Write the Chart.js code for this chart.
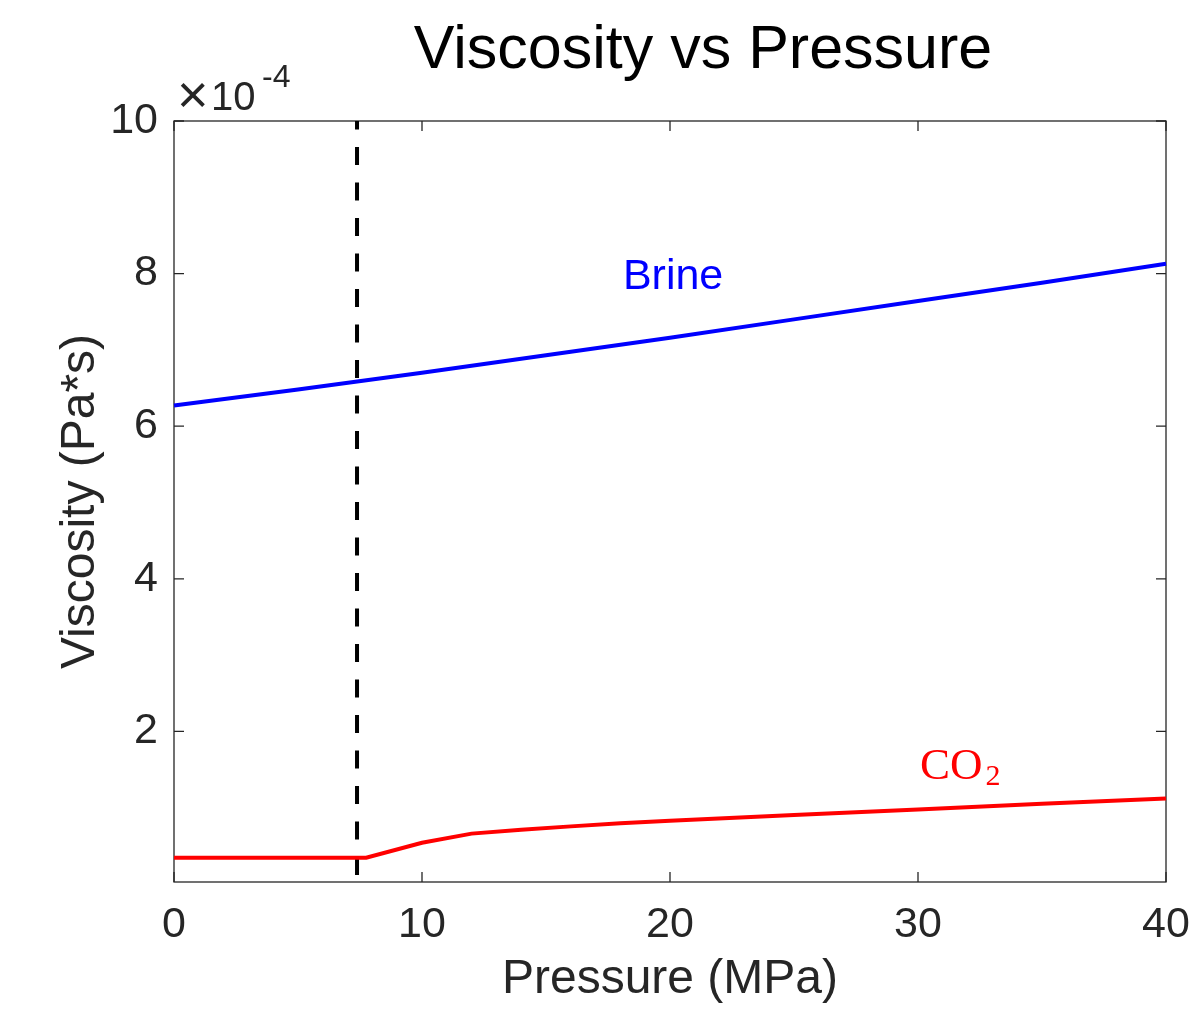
<!DOCTYPE html>
<html>
<head>
<meta charset="utf-8">
<title>Viscosity vs Pressure</title>
<script src="https://cdn.jsdelivr.net/npm/chart.js@4"></script>
<style>
    html, body { margin: 0; padding: 0; background: #fff; }
    canvas { display: block; }
</style>
</head>
<body>
<canvas id="viscChart" width="1204" height="1023"></canvas>
<script>
// Pressure (MPa) and viscosity (x 1e-4 Pa*s) for each fluid
const brinePressure = [0, 5, 10, 15, 20, 25, 30, 35, 40];
const brineViscosity = [6.27, 6.48, 6.70, 6.93, 7.16, 7.40, 7.64, 7.88, 8.13];

const co2Pressure = [0, 2, 4, 6, 7.75, 10, 12, 14, 16, 18, 20, 25, 30, 35, 40];
const co2Viscosity = [0.345, 0.345, 0.345, 0.345, 0.345, 0.54, 0.66, 0.71, 0.755, 0.795, 0.83, 0.905, 0.975, 1.05, 1.12];

// CO2 critical pressure marker
const criticalPressure = 7.38;

const xTicks = [0, 10, 20, 30, 40];
const yTicks = [2, 4, 6, 8, 10];
const yMin = 0.026;
const yMax = 10;

const axisColor = '#262626';
const sans = '"Liberation Sans", Arial, Helvetica, sans-serif';
const serif = '"Liberation Serif", "Times New Roman", serif';

const toPoints = (xs, ys) => xs.map((x, i) => ({ x: x, y: ys[i] }));

// Box around the plot with inward ticks on all four sides
const boxAxes = {
    id: 'boxAxes',
    beforeDatasetsDraw(chart) {
        const { ctx, chartArea: a, scales } = chart;
        const tick = 10;
        ctx.save();
        ctx.strokeStyle = axisColor;
        ctx.lineWidth = 1.3;
        ctx.strokeRect(a.left, a.top, a.right - a.left, a.bottom - a.top);
        ctx.beginPath();
        xTicks.forEach(v => {
            const px = scales.x.getPixelForValue(v);
            ctx.moveTo(px, a.bottom); ctx.lineTo(px, a.bottom - tick);
            ctx.moveTo(px, a.top); ctx.lineTo(px, a.top + tick);
        });
        yTicks.forEach(v => {
            const py = scales.y.getPixelForValue(v);
            ctx.moveTo(a.left, py); ctx.lineTo(a.left + tick, py);
            ctx.moveTo(a.right, py); ctx.lineTo(a.right - tick, py);
        });
        ctx.stroke();
        ctx.restore();
    },
    afterDraw(chart) {
        const { ctx, chartArea: a, scales } = chart;
        ctx.save();

        // title
        ctx.fillStyle = '#000';
        ctx.font = `61px ${sans}`;
        ctx.textAlign = 'center';
        ctx.textBaseline = 'alphabetic';
        ctx.fillText('Viscosity vs Pressure', 703, 68);

        // axis multiplier
        ctx.fillStyle = axisColor;
        ctx.textAlign = 'left';
        ctx.font = `54px ${sans}`;
        ctx.fillText('\u00d7', a.left + 3, 113);
        ctx.font = `40px ${sans}`;
        ctx.fillText('10', a.left + 37, 110);
        ctx.font = `32px ${sans}`;
        ctx.fillText('-4', a.left + 88, 87);

        // curve labels
        ctx.fillStyle = '#0000ff';
        ctx.font = `43px ${sans}`;
        ctx.fillText('Brine', scales.x.getPixelForValue(18.1), scales.y.getPixelForValue(7.8));

        ctx.fillStyle = '#ff0000';
        const cx = scales.x.getPixelForValue(30.08);
        const cy = scales.y.getPixelForValue(1.38);
        ctx.font = `45px ${serif}`;
        ctx.fillText('CO', cx, cy);
        const coWidth = ctx.measureText('CO').width;
        ctx.font = `30px ${serif}`;
        ctx.fillText('2', cx + coWidth + 3, cy + 6);

        ctx.restore();
    }
};

const ctx = document.getElementById('viscChart').getContext('2d');
const viscChart = new Chart(ctx, {
    type: 'line',
    data: {
        datasets: [
            {
                label: 'Brine',
                data: toPoints(brinePressure, brineViscosity),
                borderColor: '#0000ff',
                borderWidth: 4,
                pointRadius: 0,
                tension: 0,
                clip: 6
            },
            {
                label: 'CO2',
                data: toPoints(co2Pressure, co2Viscosity),
                borderColor: '#ff0000',
                borderWidth: 4,
                pointRadius: 0,
                tension: 0,
                clip: 6
            },
            {
                label: 'Critical pressure',
                data: [{ x: criticalPressure, y: yMin }, { x: criticalPressure, y: yMax }],
                borderColor: '#000',
                borderWidth: 4,
                borderDash: [18, 17.5],
                borderDashOffset: 28.5,
                pointRadius: 0,
                clip: 6
            }
        ]
    },
    options: {
        responsive: false,
        animation: false,
        devicePixelRatio: 1,
        layout: { padding: { top: 121, right: 38, left: 0, bottom: 0 } },
        plugins: {
            legend: { display: false },
            tooltip: { enabled: false }
        },
        scales: {
            x: {
                type: 'linear',
                min: 0,
                max: 40,
                grid: { display: false, drawTicks: false },
                border: { display: false },
                afterFit: scale => {
                    scale.height = 141;
                    // edge labels may hang past the plot box
                    scale.paddingLeft = 0;
                    scale.paddingRight = 0;
                },
                afterBuildTicks: scale => { scale.ticks = xTicks.map(v => ({ value: v })); },
                ticks: {
                    color: axisColor,
                    padding: 22,
                    maxRotation: 0,
                    font: { family: sans, size: 43, lineHeight: 1 }
                },
                title: {
                    display: true,
                    text: 'Pressure (MPa)',
                    color: axisColor,
                    padding: { top: 0, bottom: 19 },
                    font: { family: sans, size: 48, lineHeight: 1 }
                }
            },
            y: {
                type: 'linear',
                min: yMin,
                max: yMax,
                grid: { display: false, drawTicks: false },
                border: { display: false },
                afterFit: scale => {
                    scale.width = 174;
                    scale.paddingTop = 0;
                    scale.paddingBottom = 0;
                },
                afterBuildTicks: scale => { scale.ticks = yTicks.map(v => ({ value: v })); },
                ticks: {
                    color: axisColor,
                    padding: 16,
                    font: { family: sans, size: 43, lineHeight: 1 }
                },
                title: {
                    display: true,
                    text: 'Viscosity (Pa*s)',
                    color: axisColor,
                    padding: { top: 57, bottom: 0 },
                    font: { family: sans, size: 48, lineHeight: 1 }
                }
            }
        }
    },
    plugins: [boxAxes]
});
</script>
</body>
</html>
